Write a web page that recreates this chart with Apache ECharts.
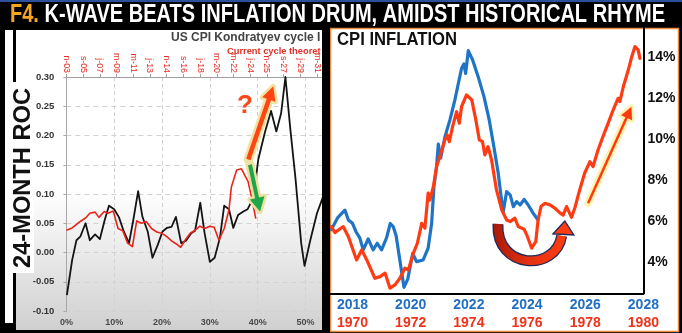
<!DOCTYPE html>
<html><head><meta charset="utf-8">
<script src="https://cdn.jsdelivr.net/npm/echarts@6/dist/echarts.min.js"></script>
<style>html,body{margin:0;padding:0;background:#000;}#c{width:682px;height:333px;}</style>
</head><body><div id="c"></div>
<script>
// ---------------- LEFT PANEL DATA (x: % of cycle, y: 24-month ROC) ----------------
const kwaveX = [0.1,1.2,2.1,2.9,4.0,4.9,6.0,7.0,8.0,8.9,10.0,11.0,12.0,13.1,14.0,15.0,15.9,17.0,18.0,19.1,20.1,21.0,22.0,22.9,24.0,25.0,26.1,26.9,28.0,28.9,30.0,31.0,32.1,33.0,34.0,34.9,35.9,37.0,37.9,38.9,39.5,40.1,41.5,42.8,43.9,44.9,45.8,46.8,47.9,49.1,49.8,51.0,52.4,53.8];
const kwaveY = [-0.073,-0.013,0.021,0.027,0.050,0.021,0.031,0.023,0.055,0.080,0.074,0.060,0.036,0.016,0.056,0.105,0.061,0.036,-0.009,0.013,0.036,0.042,0.044,0.061,0.016,0.020,0.033,0.037,0.085,0.033,-0.016,-0.009,0.025,0.080,0.074,0.042,0.064,0.070,0.074,0.090,0.118,0.158,0.205,0.242,0.207,0.238,0.300,0.213,0.127,0.016,-0.023,0.021,0.067,0.098];
const theoX = [0,1.2,2.9,4.0,4.9,6.0,6.8,7.9,8.7,9.8,10.8,11.8,12.8,13.8,14.7,15.7,16.7,17.8,18.9,19.9,21.0,22.0,22.9,23.9,24.8,25.9,26.9,27.9,28.9,30.0,30.9,31.9,33.0,34.0,34.5,35.6,36.6,38.0,38.7,39.6];
const theoY = [0.038,0.042,0.053,0.059,0.067,0.069,0.060,0.070,0.067,0.071,0.041,0.037,0.016,0.010,0.054,0.050,0.053,0.041,0.035,0.033,0.027,0.020,0.015,0.009,0.021,0.033,0.038,0.045,0.041,0.045,0.043,0.021,0.041,0.073,0.112,0.141,0.143,0.121,0.095,0.058];
const topTickLabels = ['n-03','s-05','j-07','m-09','m-11','j-13','n-14','s-16','j-18','m-20','m-22','j-24','n-25','s-27','j-29','m-31'];
const pctAxisTicks = [0,10,20,30,40,50];

// ---------------- RIGHT PANEL DATA (x: year on 2018 scale, y: CPI %) ----------------
const cpiNowX = [2017.27,2017.5,2017.74,2017.86,2018.0,2018.12,2018.25,2018.37,2018.54,2018.71,2018.85,2019.0,2019.17,2019.3,2019.4,2019.5,2019.63,2019.77,2019.9,2020.07,2020.2,2020.43,2020.6,2020.72,2020.8,2020.89,2020.95,2021.03,2021.18,2021.35,2021.52,2021.64,2021.75,2021.83,2021.89,2021.98,2022.13,2022.32,2022.52,2022.70,2022.86,2023.01,2023.1,2023.18,2023.3,2023.42,2023.53,2023.64,2023.76,2023.9,2024.04,2024.21,2024.38];
const cpiNowY = [5.6,6.2,6.55,6.07,5.91,5.5,5.2,4.62,5.15,4.62,4.94,4.62,5.2,5.9,5.75,5.3,4.1,2.8,3.2,4.45,4.05,4.13,4.7,5.9,7.69,8.66,9.76,9.07,10.12,10.93,11.9,12.71,13.44,13.65,13.19,14.29,13.84,13.03,12.06,10.93,9.63,8.34,7.3,6.45,7.45,7.29,6.72,6.96,6.8,7.07,6.8,6.4,6.07];
const cpi70sX = [2017.27,2017.4,2017.68,2017.86,2018.14,2018.32,2018.49,2018.77,2018.95,2019.12,2019.29,2019.46,2019.63,2019.8,2019.92,2020.09,2020.23,2020.38,2020.49,2020.6,2020.66,2020.78,2020.89,2021.07,2021.18,2021.26,2021.33,2021.44,2021.58,2021.67,2021.75,2021.92,2022.1,2022.24,2022.36,2022.47,2022.55,2022.66,2022.78,2022.95,2023.13,2023.3,2023.42,2023.58,2023.7,2023.9,2023.99,2024.16,2024.3,2024.38,2024.48,2024.62,2024.79,2024.96,2025.14,2025.24,2025.36,2025.53,2025.64,2025.81,2025.98,2026.16,2026.27,2026.44,2026.61,2026.79,2026.96,2027.13,2027.19,2027.31,2027.48,2027.6,2027.71,2027.82,2027.88];
const cpi70sY = [5.75,5.46,5.75,5.26,4.13,4.62,4.13,3.24,3.32,3.49,2.76,2.92,3.24,3.73,3.64,4.45,4.94,5.91,5.67,7.37,7.04,7.69,8.66,9.47,9.96,10.2,9.87,10.6,11.33,10.77,11.57,12.14,11.9,10.93,9.96,9.87,9.23,9.63,8.99,7.53,6.56,6.07,5.99,6.16,5.75,5.62,5.35,4.70,5.02,6.07,6.72,6.88,6.8,6.64,6.40,6.31,6.72,6.2,6.64,7.53,8.34,8.9,8.66,9.47,10.12,10.77,11.41,11.98,11.82,12.54,13.35,14.0,14.49,14.33,13.92];
const yearTicks = [2018,2020,2022,2024,2026,2028];
const yearOffset = 48; // 2018 -> 1970
const cpiTicks = [4,6,8,10,12,14];

// annotation anchors in data coordinates
const leftUpArrow = [[38.04,0.159],[43.27,0.284]];
const leftDownArrow = [[38.39,0.150],[40.49,0.070]];
const questionMark = [37.35,0.250];
const rightUpArrow = [[2026.10,6.88],[2027.59,11.57]];
const uArrow = {start:[2023.0,5.88], cp1:[2022.93,3.65], cp2:[2024.99,3.55], end:[2025.19,5.30], tip:[2025.30,6.02], headL:[2024.89,5.39], headR:[2025.61,5.34]};

// ---------------- fonts ----------------
const FONT = '"Liberation Sans", Arial, sans-serif';
const mctx = document.createElement('canvas').getContext('2d');
function tw(str, font){ mctx.font = font; return mctx.measureText(str).width; }
const hasNarrow = Math.abs(tw('2018 CPI %', 'bold 20px "Liberation Sans Narrow", monospace') - tw('2018 CPI %', 'bold 20px monospace')) > 0.5;
const NARROW = hasNarrow ? '"Liberation Sans Narrow", "Liberation Sans", sans-serif' : FONT;
const NARROW1 = hasNarrow ? '"Liberation Sans Narrow"' : '"Liberation Sans"';
const bigSize = hasNarrow ? 16 : 14;

const zip = (xs, ys) => xs.map((x, i) => [x, ys[i]]);

const chart = echarts.init(document.getElementById('c'), null, {renderer:'canvas', width:682, height:333});
const option = {
  backgroundColor: '#000',
  animation: false,
  grid: [
    {left: 66.4, top: 77, width: 255.6, height: 234},
    {left: 330, top: 28, width: 313.4, height: 265.3}
  ],
  xAxis: [
    {gridIndex:0, type:'value', min:0, max:53.45, interval:10, position:'bottom',
     axisLine:{show:false}, axisTick:{show:false},
     splitLine:{show:true, lineStyle:{color:'#d2d2d2', type:[4,3], width:1}},
     axisLabel:{formatter: v => (pctAxisTicks.indexOf(v) >= 0 ? v + '%' : ''), color:'#4a4a4a', fontWeight:'bold', fontSize:9, fontFamily:FONT, margin:7, showMaxLabel:false}},
    {gridIndex:0, type:'value', min:0, max:15.3, interval:1, position:'top',
     axisLine:{show:true, lineStyle:{color:'#a0a0a0', width:1}},
     axisTick:{show:true, length:3, lineStyle:{color:'#a0a0a0'}},
     splitLine:{show:false},
     axisLabel:{rotate:90, formatter: v => (Number.isInteger(v) && v < topTickLabels.length ? topTickLabels[v] : ''), color:'#e42c24', fontSize:8.8, fontFamily:FONT, margin:4, showMaxLabel:false}},
    {gridIndex:1, type:'value', min:2017.227, max:2028,
     axisLine:{show:true, onZero:false, lineStyle:{color:'#000', width:2}},
     axisTick:{show:false}, splitLine:{show:false},
     axisLabel:{customValues: yearTicks, margin:3,
       formatter: v => '{b|' + v + '}\n{r|' + (v - yearOffset) + '}',
       rich:{ b:{color:'#1f6fc4', fontSize:bigSize, fontWeight:'bold', fontFamily:NARROW, lineHeight:18},
              r:{color:'#f0321a', fontSize:bigSize, fontWeight:'bold', fontFamily:NARROW, lineHeight:18}}}}
  ],
  yAxis: [
    {gridIndex:0, type:'value', min:-0.1, max:0.3, interval:0.05, offset:3,
     axisLine:{show:true, lineStyle:{color:'#a8a8a8', width:1}},
     axisTick:{show:true, length:3, lineStyle:{color:'#a8a8a8'}},
     splitLine:{show:true, lineStyle:{color:'#d2d2d2', type:[5,4], width:1}},
     axisLabel:{formatter: v => v.toFixed(2), color:'#333', fontWeight:'bold', fontSize:9.5, fontFamily:FONT, margin:9}},
    {gridIndex:1, type:'value', position:'right', min:2.51, max:15.393,
     axisLine:{show:true, lineStyle:{color:'#000', width:2}},
     axisTick:{show:false}, splitLine:{show:false},
     axisLabel:{customValues: cpiTicks, formatter:'{value}%', color:'#111', fontWeight:'bold', fontSize:bigSize, fontFamily:NARROW, margin:4}}
  ],
  series: [
    {type:'line', name:'K-wave', xAxisIndex:0, yAxisIndex:0, data: zip(kwaveX, kwaveY), showSymbol:false, z:3,
     lineStyle:{color:'#141414', width:1.8, join:'round'}},
    {type:'line', name:'Current cycle theoretical', xAxisIndex:0, yAxisIndex:0, data: zip(theoX, theoY), showSymbol:false, z:3,
     lineStyle:{color:'#e8251b', width:1.6, join:'round'}},
    {type:'line', name:'CPI 2018-', xAxisIndex:2, yAxisIndex:1, data: zip(cpiNowX, cpiNowY), showSymbol:false, z:3,
     lineStyle:{color:'#1f74c6', width:3.2, join:'round', cap:'round'}},
    {type:'line', name:'CPI 1970-', xAxisIndex:2, yAxisIndex:1, data: zip(cpi70sX, cpi70sY), showSymbol:false, z:4,
     lineStyle:{color:'#ff3b14', width:3.2, join:'round', cap:'round'}}
  ]
};
chart.setOption(option);

const L = p => chart.convertToPixel({seriesIndex:0}, p);
const R = p => chart.convertToPixel({seriesIndex:2}, p);

function arrowEls(p0, p1, o) {
  const dx = p1[0]-p0[0], dy = p1[1]-p0[1], len = Math.hypot(dx, dy);
  const ux = dx/len, uy = dy/len, nx = -uy, ny = ux;
  const bx = p1[0]-ux*o.headLen, by = p1[1]-uy*o.headLen;
  const head = [[p1[0],p1[1]],[bx+nx*o.headW/2, by+ny*o.headW/2],[bx-nx*o.headW/2, by-ny*o.headW/2]];
  const els = [];
  if (o.glow) {
    els.push({type:'line', z:50, shape:{x1:p0[0],y1:p0[1],x2:bx,y2:by}, style:{stroke:o.glow, lineWidth:o.w+o.glowW, lineCap:'round'}});
    els.push({type:'polygon', z:50, shape:{points:head}, style:{fill:o.glow, stroke:o.glow, lineWidth:o.glowW, lineJoin:'round'}});
  }
  els.push({type:'line', z:51, shape:{x1:p0[0],y1:p0[1],x2:bx+ux,y2:by+uy}, style:{stroke:o.color, lineWidth:o.w}});
  els.push({type:'polygon', z:51, shape:{points:head}, style:{fill:o.color}});
  return els;
}

function fitText(str, font, target) { return target / tw(str, font); }

const titleStr = 'F4. K-WAVE BEATS INFLATION DRUM, AMIDST HISTORICAL RHYME';
const titleFont = 'bold 25px ' + NARROW1;
const titleScale = fitText(titleStr, titleFont, 655);
const rocStr = '24-MONTH ROC';
const rocFont = 'bold 23px ' + NARROW1;
const rocScale = fitText(rocStr, rocFont, 180);
const cpiStr = 'CPI INFLATION';
const cpiFont = 'bold 18px "Liberation Sans"';
const cpiScale = fitText(cpiStr, cpiFont, 120);

const g = [];
// top blue rule
g.push({type:'rect', z:-20, shape:{x:0,y:0,width:682,height:2}, style:{fill:'#2c4f9e'}});
// title
g.push({type:'text', z:10, x:10, y:15.5, scaleX:titleScale, style:{
  text:'{a|F4.} {b|K-WAVE BEATS INFLATION DRUM, AMIDST HISTORICAL RHYME}',
  font:titleFont, fill:'#fff', verticalAlign:'middle',
  rich:{a:{fill:'#f6a623', fontSize:25, fontWeight:'bold', fontFamily:NARROW1},
        b:{fill:'#ffffff', fontSize:25, fontWeight:'bold', fontFamily:NARROW1}}}});
// left panel backgrounds
g.push({type:'rect', z:-20, shape:{x:5,y:30,width:8,height:293}, style:{fill:'#fff'}});
g.push({type:'rect', z:-20, shape:{x:16,y:30,width:306,height:300}, style:{fill:'#fff'}});
g.push({type:'rect', z:-19, shape:{x:16,y:190,width:306,height:140}, style:{fill:{type:'linear',x:0,y:0,x2:0,y2:1,colorStops:[{offset:0,color:'#ffffff'},{offset:1,color:'#d0d0d0'}]}}});
// 24-MONTH ROC label
g.push({type:'rect', z:5, shape:{x:13,y:82,width:21,height:191}, style:{fill:'#fff'}});
g.push({type:'text', z:6, x:23.5, y:178, rotation:Math.PI/2, scaleX:rocScale, style:{text:rocStr, font:rocFont, fill:'#111', align:'center', verticalAlign:'middle'}});
// left titles
g.push({type:'text', z:6, x:171, y:37.5, style:{text:'US CPI Kondratyev cycle I', font:'bold 12px "Liberation Sans"', fill:'#444', verticalAlign:'middle'}});
g.push({type:'text', z:6, x:227, y:51.5, style:{text:'Current cycle theoret', font:'bold 9.3px "Liberation Sans"', fill:'#e0302a', verticalAlign:'middle'}});
// right panel
g.push({type:'rect', z:-20, shape:{x:330.5,y:28.5,width:348,height:303}, style:{fill:'#fff', stroke:'#e98a3c', lineWidth:1.5}});
g.push({type:'text', z:6, x:337, y:40, scaleX:cpiScale, style:{text:cpiStr, font:cpiFont, fill:'#111', verticalAlign:'middle'}});
// left arrows
g.push(...arrowEls(L(leftUpArrow[0]), L(leftUpArrow[1]), {w:4.5, headLen:14, headW:14, color:'#ff4514', glow:'#f1e2a2', glowW:5}));
g.push(...arrowEls(L(leftDownArrow[0]), L(leftDownArrow[1]), {w:4, headLen:14, headW:15, color:'#1da64a', glow:'#efdfa0', glowW:5}));
const qm = L(questionMark);
g.push({type:'text', z:52, x:qm[0], y:qm[1], style:{text:'?', font:'bold 26px "Liberation Sans"', fill:'#ff4514', align:'center', verticalAlign:'middle'}});
// right straight arrow
g.push(...arrowEls(R(rightUpArrow[0]), R(rightUpArrow[1]), {w:2.5, headLen:12, headW:12, color:'#ff3a10', glow:'#fcf3b0', glowW:5}));
// U arrow
const uS = R(uArrow.start), uC1 = R(uArrow.cp1), uC2 = R(uArrow.cp2), uE = R(uArrow.end);
const uT = R(uArrow.tip), uHL = R(uArrow.headL), uHR = R(uArrow.headR);
const bez = {x1:uS[0], y1:uS[1], cpx1:uC1[0], cpy1:uC1[1], cpx2:uC2[0], cpy2:uC2[1], x2:uE[0], y2:uE[1]};
g.push({type:'bezierCurve', z:60, shape:bez, style:{stroke:'#1c2a58', lineWidth:11, fill:null, lineCap:'butt'}});
g.push({type:'bezierCurve', z:61, shape:bez, style:{fill:null, lineWidth:8.5, lineCap:'butt',
  stroke:{type:'linear', x:0, y:0, x2:1, y2:0, colorStops:[{offset:0,color:'#a8190a'},{offset:0.45,color:'#e2300f'},{offset:1,color:'#ff3d12'}]}}});
g.push({type:'polygon', z:62, shape:{points:[uT, uHL, uHR]}, style:{fill:'#ff3d12', stroke:'#1c2a58', lineWidth:1.3, lineJoin:'miter'}});
// clip bar between panels
g.push({type:'rect', z:200, shape:{x:322,y:28,width:8,height:305}, style:{fill:'#000'}});

chart.setOption({graphic:{elements:g}});
</script></body></html>
